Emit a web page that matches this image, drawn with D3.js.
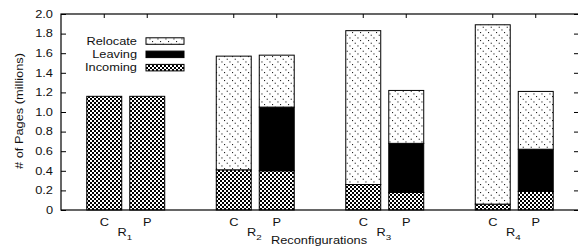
<!DOCTYPE html>
<html>
<head>
<meta charset="utf-8">
<script src="https://cdn.jsdelivr.net/npm/d3@7"></script>
<style>
  body { margin: 0; background: #fff; }
  text { font-family: "Liberation Sans", Arial, sans-serif; font-size: 10.5px; fill: #111; }
</style>
</head>
<body>
<div id="chart"></div>
<script>
// data (millions of pages)
let configs = ["R1", "R2", "R3", "R4"]
let strategies = ["C", "P"]
let keys = ["Incoming", "Leaving", "Relocate"]
let incomingC = [1.16, 0.41, 0.26, 0.06]
let leavingC = [0, 0, 0, 0]
let relocateC = [0, 1.16, 1.57, 1.83]
let incomingP = [1.16, 0.40, 0.18, 0.19]
let leavingP = [0, 0.65, 0.50, 0.43]
let relocateP = [0, 0.53, 0.54, 0.59]
let yTicks = [0, 0.2, 0.4, 0.6, 0.8, 1.0, 1.2, 1.4, 1.6, 1.8, 2.0]

let margin = {top: 14, left: 61}
let W = 578, H = 248
let plotRight = 579, plotBottom = 210
let sx = 1.22 // text is a bit wide in the original

let svg = d3.select("#chart").append("svg")
    .attr("width", W)
    .attr("height", H)

// patterns
let defs = svg.append("defs")
let checker = defs.append("pattern")
    .attr("id", "pat-incoming")
    .attr("patternUnits", "userSpaceOnUse")
    .attr("width", 4).attr("height", 4)
checker.append("rect").attr("width", 4).attr("height", 4).attr("fill", "#fff")
checker.append("rect").attr("x", 0).attr("y", 0).attr("width", 2).attr("height", 2).attr("fill", "#000")
checker.append("rect").attr("x", 2).attr("y", 2).attr("width", 2).attr("height", 2).attr("fill", "#000")

// dotted backslash lines
let dots = defs.append("pattern")
    .attr("id", "pat-relocate")
    .attr("patternUnits", "userSpaceOnUse")
    .attr("width", 8).attr("height", 8)
dots.append("rect").attr("width", 8).attr("height", 8).attr("fill", "#fff")
;[0, 2.7, 5.4].forEach(function (d) {
    dots.append("rect").attr("x", d).attr("y", d).attr("width", 1.1).attr("height", 1.1).attr("fill", "#222")
})

let fills = {Incoming: "url(#pat-incoming)", Leaving: "#000", Relocate: "url(#pat-relocate)"}

// build rows for the stack
let rows = []
configs.forEach(function (c, i) {
    rows.push({config: c, strat: "C", idx: i, Incoming: incomingC[i], Leaving: leavingC[i], Relocate: relocateC[i]})
    rows.push({config: c, strat: "P", idx: i, Incoming: incomingP[i], Leaving: leavingP[i], Relocate: relocateP[i]})
})
let series = d3.stack().keys(keys)(rows)

let x = d3.scaleLinear().domain([-0.5, configs.length - 0.5]).range([margin.left, plotRight])
let y = d3.scaleLinear().domain([0, 2]).range([plotBottom, margin.top])
let offset = 0.166, barW = 0.27
function barX(d) {
    return x(d.data.idx + (d.data.strat === "C" ? -offset : offset) - barW / 2)
}

// bars
svg.append("g").selectAll("g")
    .data(series)
    .enter().append("g")
    .attr("fill", function (d) { return fills[d.key] })
    .selectAll("rect")
    .data(function (d) { return d.filter(function (e) { return e[1] - e[0] > 0 }) })
    .enter().append("rect")
    .attr("x", barX)
    .attr("width", x(barW) - x(0))
    .attr("y", function (d) { return y(d[1]) })
    .attr("height", function (d) { return y(d[0]) - y(d[1]) })
    .attr("stroke", "#000")
    .attr("stroke-width", 1)

// frame
svg.append("rect")
    .attr("x", margin.left).attr("y", margin.top)
    .attr("width", plotRight - margin.left).attr("height", plotBottom - margin.top)
    .attr("fill", "none").attr("stroke", "#000").attr("stroke-width", 1.2)

// y axis left
let yAxis = svg.append("g")
    .attr("transform", "translate(" + margin.left + ",0)")
    .call(d3.axisLeft(y).tickValues(yTicks).tickSizeInner(-5).tickSizeOuter(0).tickPadding(8 / sx)
        .tickFormat(function (d) { return d === 0 ? "0" : d3.format(".1f")(d) }))
yAxis.select(".domain").remove()
yAxis.selectAll("text").attr("transform", "scale(" + sx + ",1)").style("font-size", "10.5px").style("font-family", null)
yAxis.selectAll("line").attr("stroke", "#000")

// y axis right (ticks only)
let yAxisR = svg.append("g")
    .attr("transform", "translate(" + plotRight + ",0)")
    .call(d3.axisRight(y).tickValues(yTicks).tickSizeInner(-5).tickSizeOuter(0).tickFormat(""))
yAxisR.select(".domain").remove()

// top ticks at bar centers
let centers = []
configs.forEach(function (c, i) {
    centers.push(i - offset)
    centers.push(i + offset)
})
svg.append("g").selectAll("line")
    .data(centers)
    .enter().append("line")
    .attr("x1", function (d) { return x(d) }).attr("x2", function (d) { return x(d) })
    .attr("y1", margin.top).attr("y2", margin.top + 4)
    .attr("stroke", "#000")

// x labels
function stretchedText(g, px, py, anchor) {
    return g.append("g").attr("transform", "translate(" + px + "," + py + ")")
        .append("text")
        .attr("text-anchor", anchor)
        .attr("transform", "scale(" + sx + ",1)")
}
let xl = svg.append("g")
configs.forEach(function (c, i) {
    strategies.forEach(function (s, j) {
        stretchedText(xl, x(i + (j === 0 ? -offset : offset)), 226, "middle").text(s)
    })
    let t = stretchedText(xl, x(i) - 1, 236, "middle")
    t.append("tspan").text(c.charAt(0))
    t.append("tspan").attr("dy", 4).style("font-size", "8px").text(c.slice(1))
})
stretchedText(svg, (margin.left + plotRight) / 2 - 1, 244, "middle").text("Reconfigurations")

// y label
svg.append("g").attr("transform", "translate(23," + 111 + ") rotate(-90)")
    .append("text")
    .attr("text-anchor", "middle")
    .attr("transform", "scale(" + sx + ",1)")
    .text("# of Pages (millions)")

// legend
let legendItems = ["Relocate", "Leaving", "Incoming"]
let legend = svg.append("g").attr("transform", "translate(0,41)")
legendItems.forEach(function (k, i) {
    let ly = i * 13.3
    stretchedText(legend, 137, ly, "end").attr("dy", "0.35em").text(k)
    legend.append("rect")
        .attr("x", 146).attr("y", ly - 3.2)
        .attr("width", 38).attr("height", 6.5)
        .attr("fill", fills[k])
        .attr("stroke", "#000").attr("stroke-width", 1)
})
</script>
</body>
</html>
